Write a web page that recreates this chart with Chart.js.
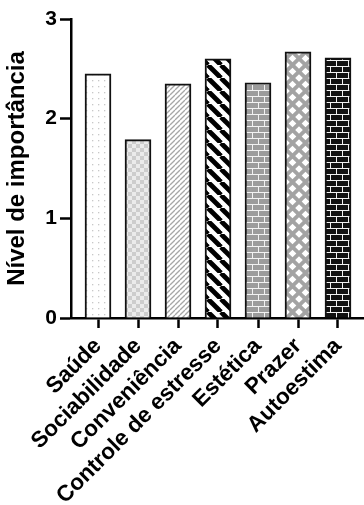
<!DOCTYPE html>
<html>
<head>
<meta charset="utf-8">
<script src="https://cdn.jsdelivr.net/npm/chart.js@4"></script>
<style>
html,body{margin:0;padding:0;background:#fff;}
#wrap{width:364px;height:505px;position:relative;}
</style>
</head>
<body>
<div id="wrap"><canvas id="c"></canvas></div>
<script>
const categories = ["Saúde", "Sociabilidade", "Conveniência", "Controle de estresse", "Estética", "Prazer", "Autoestima"];
const values = [2.45, 1.79, 2.35, 2.60, 2.36, 2.67, 2.61];
const yTicks = [0, 1, 2, 3];
const yTitle = "Nível de importância";

function makePattern(w, h, draw) {
  const c = document.createElement('canvas');
  c.width = w; c.height = h;
  const g = c.getContext('2d');
  draw(g, w, h);
  return g.createPattern(c, 'repeat');
}
const patDots = makePattern(6, 6, (g) => {
  g.fillStyle = '#ffffff'; g.fillRect(0, 0, 6, 6);
  g.fillStyle = '#c8c8c8'; g.fillRect(2, 2, 1.3, 1.3);
});
const patChecker = makePattern(8, 8, (g) => {
  g.fillStyle = '#ebebeb'; g.fillRect(0, 0, 8, 8);
  g.fillStyle = '#cdcdcd'; g.fillRect(0, 0, 4, 4); g.fillRect(4, 4, 4, 4);
});
const patThinDiag = makePattern(5, 5, (g) => {
  g.fillStyle = '#ffffff'; g.fillRect(0, 0, 5, 5);
  g.strokeStyle = '#a6a6a6'; g.lineWidth = 1.3;
  for (let k = -1; k <= 1; k++) {
    g.beginPath(); g.moveTo(k * 5, 5); g.lineTo(k * 5 + 5, 0); g.stroke();
  }
});
const patThickDiag = makePattern(13, 13, (g) => {
  g.fillStyle = '#ffffff'; g.fillRect(0, 0, 13, 13);
  g.strokeStyle = '#000000'; g.lineWidth = 4.8;
  for (let k = -1; k <= 1; k++) {
    g.beginPath(); g.moveTo(k * 13, 0); g.lineTo(k * 13 + 13, 13); g.stroke();
  }
});
function bricks(brick, mortar) {
  return makePattern(12, 12, (g) => {
    g.fillStyle = mortar; g.fillRect(0, 0, 12, 12);
    g.fillStyle = brick;
    g.fillRect(1, 1, 11, 5);
    g.fillRect(0, 7, 6, 5);
    g.fillRect(7, 7, 5, 5);
  });
}
const patGreyBricks = bricks('#9c9c9c', '#f2f2f2');
const patBlackBricks = bricks('#111111', '#f2f2f2');
const patLattice = makePattern(13, 13, (g) => {
  g.fillStyle = '#a3a3a3'; g.fillRect(0, 0, 13, 13);
  g.fillStyle = '#ffffff';
  const pts = [[6.5, 6.5], [0, 0], [13, 0], [0, 13], [13, 13]];
  const r = 3.8;
  for (const [x, y] of pts) {
    g.beginPath(); g.moveTo(x, y - r); g.lineTo(x + r, y); g.lineTo(x, y + r); g.lineTo(x - r, y); g.closePath(); g.fill();
  }
});
const patterns = [patDots, patChecker, patThinDiag, patThickDiag, patGreyBricks, patLattice, patBlackBricks];

const FONT = "'Liberation Sans', Arial, Helvetica, sans-serif";

new Chart(document.getElementById('c'), {
  type: 'bar',
  data: {
    datasets: [{
      data: categories.map((c, i) => ({ x: i, y: values[i] })),
      backgroundColor: patterns,
      borderColor: '#111111',
      borderWidth: 2,
      barThickness: 26
    }]
  },
  options: {
    responsive: true,
    maintainAspectRatio: false,
    animation: false,
    devicePixelRatio: 1,
    layout: { padding: { top: 19, left: 0, right: 0, bottom: 0 } },
    plugins: { legend: { display: false }, tooltip: { enabled: false } },
    scales: {
      x: {
        type: 'linear',
        offset: false,
        min: -0.675,
        max: 6.65,
        afterBuildTicks: (s) => { s.ticks = categories.map((c, i) => ({ value: i })); },
        afterFit: (s) => { s.height = 187; },
        grid: { display: true, offset: false, drawOnChartArea: false, drawTicks: true, tickLength: 10, tickWidth: 2.5, color: '#000' },
        border: { display: true, color: '#000', width: 2.5 },
        ticks: {
          autoSkip: false,
          minRotation: 45,
          maxRotation: 45,
          padding: 5,
          color: '#000',
          font: { family: FONT, size: 22.5, weight: 'bold' },
          callback: (v) => categories[v]
        }
      },
      y: {
        min: 0,
        max: 3,
        afterBuildTicks: (s) => { s.ticks = yTicks.map(v => ({ value: v })); },
        afterFit: (s) => { s.width = 71; },
        grid: { display: true, drawOnChartArea: false, drawTicks: true, tickLength: 11, tickWidth: 2.5, color: '#000' },
        border: { display: true, color: '#000', width: 2.5 },
        ticks: {
          padding: 3,
          color: '#000',
          font: { family: FONT, size: 21, weight: 'bold' }
        },
        title: {
          display: true,
          text: yTitle,
          color: '#000',
          padding: { top: 3, bottom: 0 },
          font: { family: FONT, size: 24, weight: 'bold' }
        }
      }
    }
  }
});
</script>
</body>
</html>
